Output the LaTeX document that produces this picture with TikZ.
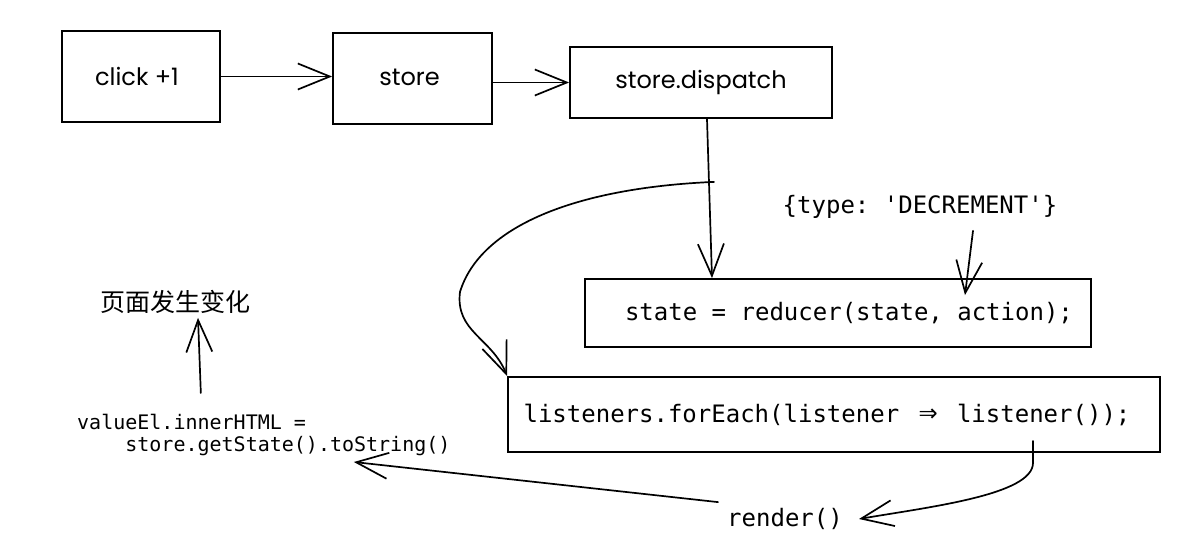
\documentclass[tikz,border=0pt]{standalone}
\usepackage{fontspec}
\setmainfont{Poppins}
\setmonofont{DejaVu Sans Mono}
\newfontfamily\cjk{Noto Sans CJK SC}
\newfontfamily\hand{Poppins}
\usetikzlibrary{arrows.meta}
\tikzset{
  box/.style={draw=black, line width=1.8pt, inner sep=0pt},
  handtxt/.style={font=\hand\fontsize{24}{28}\selectfont},
  code/.style={font=\ttfamily\fontsize{24}{28}\selectfont},
  codesmall/.style={font=\ttfamily\fontsize{20}{22}\selectfont},
  arr/.style={line width=1.7pt, line cap=round,
    -{Straight Barb[length=32pt,width=26pt,line width=1.7pt]}},
}
\begin{document}
\begin{tikzpicture}[x=1pt,y=-1pt]
\useasboundingbox (0,0) rectangle (1194,543);
\fill[white] (0,0) rectangle (1194,543);

% top row boxes
\node[box, handtxt, minimum width=158pt, minimum height=91pt] (click) at (141,76.5) {click +1\hspace*{8pt}};
\node[box, handtxt, minimum width=159pt, minimum height=91pt] (store) at (412.5,78.5) {\raisebox{3pt}{store}\hspace*{6pt}};
\node[box, handtxt, minimum width=262pt, minimum height=71pt] (dispatch) at (701,82.5) {store.dispatch};

% code boxes
\node[box, code, minimum width=506pt, minimum height=68pt] (state) at (838,313) {\hspace*{22pt}state = reducer(state, action);};
\node[box, code, minimum width=652pt, minimum height=75pt] (lis) at (834,414.5) {listeners.forEach(listener \makebox[28.9pt]{\scalebox{1.3}{⇒}} listener());\hspace*{14pt}};

% labels
\node[code, inner sep=0pt] (type) at (920,207) {\{type: \textquotesingle DECREMENT\textquotesingle\}};
\node[code, inner sep=0pt] (render) at (785,519) {render()};
\node[codesmall, inner sep=0pt, align=left, anchor=north west] (val) at (77,414)
  {valueEl.innerHTML =\\\phantom{abcd}store.getState().toString()};
\node[font=\cjk\fontsize{25}{30}\selectfont, inner sep=2pt] (page) at (175,302) {页面发生变化};

% connectors
\draw[arr] (click.east) -- (click.east -| store.west);
\draw[arr] (dispatch.west -| store.east) -- (dispatch.west);
\draw[arr] ([xshift=6pt]dispatch.south) -- ([xshift=-126pt]state.north);
\draw[arr] ([xshift=53pt,yshift=-12pt]type.south) -- ([xshift=127pt,yshift=-17pt]state.north);

\coordinate (c1) at ([shift={(13pt,-63pt)}]dispatch.south);
\draw[arr] (c1) .. controls +(-140,6) and +(20,-65) .. ++(-254,110)
  .. controls +(-5,40) and +(-15,-38) .. (lis.north west);

\coordinate (c2) at ([shift={(199pt,12pt)}]lis.south);
\draw[arr] (c2) -- ++(0,22) .. controls +(0,32) and +(70,-12) .. ([xshift=16pt]render.east);

\draw[arr] ([shift={(-9pt,6pt)}]render.north west) -- ([shift={(90pt,-6pt)}]val.south);

\draw[arr] ([xshift=-63pt,yshift=21pt]val.north) -- ([xshift=23pt,yshift=-2pt]page.south);
\end{tikzpicture}
\end{document}
